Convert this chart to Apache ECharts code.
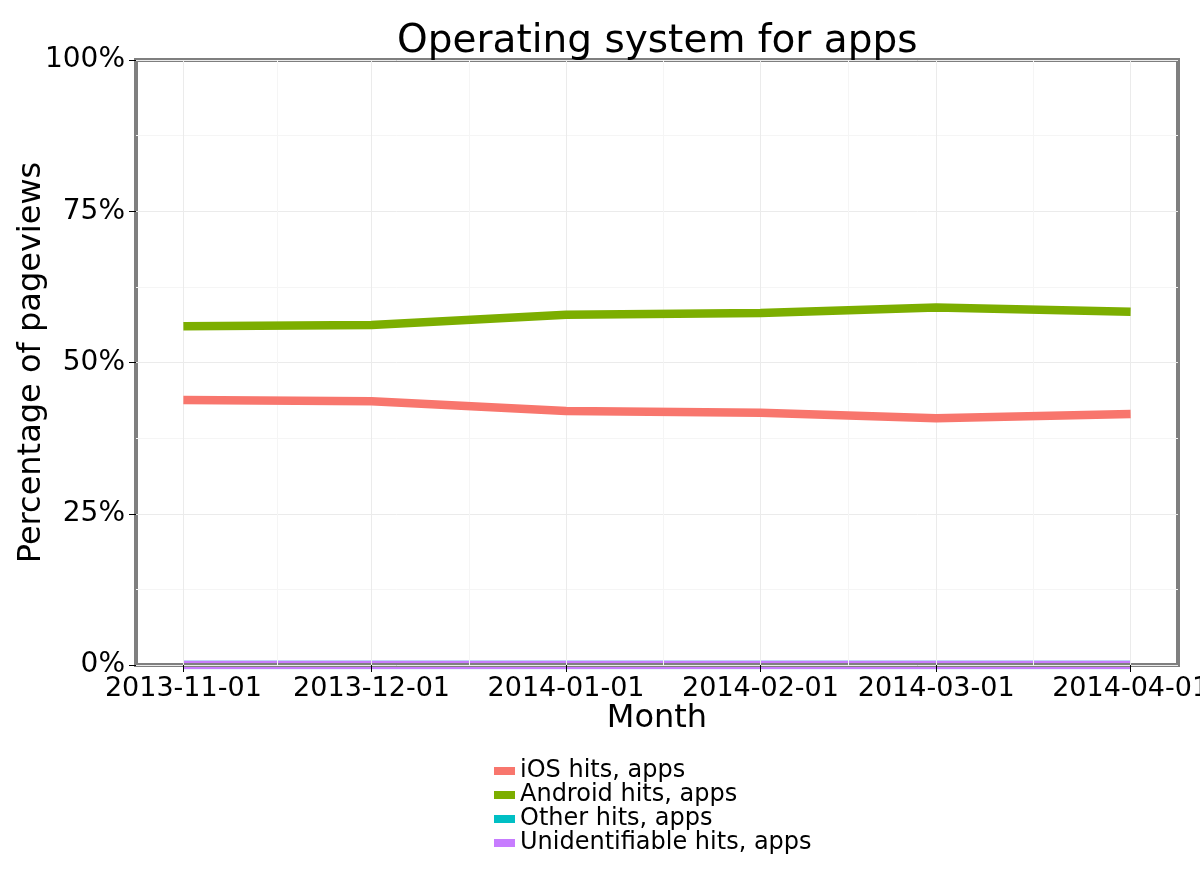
<!DOCTYPE html>
<html>
<head>
<meta charset="utf-8">
<script src="https://cdn.jsdelivr.net/npm/echarts@6/dist/echarts.min.js"></script>
<style>
  html, body { margin: 0; padding: 0; background: #ffffff; }
  #graph { width: 1200px; height: 882px; }
</style>
</head>
<body>
<div id="graph"></div>
<script>
// chart data
const months = ['2013-11-01', '2013-12-01', '2014-01-01', '2014-02-01', '2014-03-01', '2014-04-01'];
const iosHits = [43.8, 43.6, 42.0, 41.7, 40.8, 41.5];
const androidHits = [56.0, 56.2, 57.9, 58.2, 59.1, 58.4];
const otherHits = [0.02, 0.02, 0.02, 0.02, 0.02, 0.02];
const unidentHits = [0.01, 0.01, 0.01, 0.01, 0.01, 0.01];
const yTicks = [0, 25, 50, 75, 100];

const seriesNames = ['iOS hits, apps', 'Android hits, apps', 'Other hits, apps', 'Unidentifiable hits, apps'];
const seriesColors = ['#F8766D', '#7CAE00', '#00BFC4', '#C77CFF'];
const seriesValues = [iosHits, androidHits, otherHits, unidentHits];

const monthTimes = months.map(d => +new Date(d + 'T00:00:00'));
const span = monthTimes[monthTimes.length - 1] - monthTimes[0];
const xMin = monthTimes[0] - span * 0.05;
const xMax = monthTimes[monthTimes.length - 1] + span * 0.05;
const minorTimes = [];
for (let i = 0; i < monthTimes.length - 1; i++) {
  minorTimes.push((monthTimes[i] + monthTimes[i + 1]) / 2);
}

const chartDom = document.getElementById('graph');
const myChart = echarts.init(chartDom, null, { renderer: 'canvas' });

const fontFamily = 'DejaVu Sans';

const option = {
  animation: false,
  backgroundColor: '#ffffff',
  textStyle: { fontFamily: fontFamily },
  title: {
    text: 'Operating system for apps',
    left: 392,
    top: 17,
    textStyle: { fontSize: 39, fontWeight: 'normal', color: '#000000', fontFamily: fontFamily },
  },
  legend: {
    orient: 'vertical',
    left: 494,
    top: 759,
    padding: 0,
    itemGap: 0,
    itemWidth: 21,
    itemHeight: 8,
    icon: 'rect',
    data: seriesNames,
    textStyle: { fontSize: 24, color: '#000000', fontFamily: fontFamily, lineHeight: 24 },
  },
  grid: {
    left: 136,
    right: 22,
    top: 60,
    bottom: 217,
    outerBoundsMode: 'none',
    containLabel: false,
    show: true,
    backgroundColor: 'transparent',
    borderColor: '#7f7f7f',
    borderWidth: 4,
  },
  xAxis: [
    {
      type: 'time',
      min: xMin,
      max: xMax,
      name: 'Month',
      nameLocation: 'middle',
      nameGap: 38,
      nameMoveOverlap: false,
      nameTextStyle: { fontSize: 32, color: '#000000', fontFamily: fontFamily },
      axisLine: { show: false },
      axisTick: { show: true, length: 7, lineStyle: { color: '#000000', width: 1 }, customValues: monthTimes },
      axisLabel: {
        customValues: monthTimes,
        formatter: '{yyyy}-{MM}-{dd}',
        fontSize: 27,
        color: '#000000',
        margin: 10,
        hideOverlap: false,
        showMinLabel: true,
        showMaxLabel: true,
      },
      splitLine: { show: true, lineStyle: { color: '#ebebeb', width: 1 } },
    },
    {
      type: 'time',
      min: xMin,
      max: xMax,
      position: 'bottom',
      axisLine: { show: false },
      axisTick: { show: false, customValues: minorTimes },
      axisLabel: { show: false },
      splitLine: { show: true, lineStyle: { color: '#f5f5f5', width: 1 } },
    },
  ],
  yAxis: {
    type: 'value',
    min: 0,
    max: 100,
    interval: 25,
    name: 'Percentage of pageviews',
    nameLocation: 'middle',
    nameGap: 88,
    nameMoveOverlap: false,
    nameTextStyle: { fontSize: 32, color: '#000000', fontFamily: fontFamily },
    axisLine: { show: false },
    axisTick: { show: true, length: 7, lineStyle: { color: '#000000', width: 1 } },
    axisLabel: {
      fontSize: 28,
      color: '#000000',
      margin: 11,
      formatter: v => (yTicks.indexOf(v) >= 0 ? v + '%' : ''),
    },
    splitLine: { show: true, lineStyle: { color: '#ebebeb', width: 1 } },
    minorTick: { show: false, splitNumber: 2 },
    minorSplitLine: { show: true, lineStyle: { color: '#f5f5f5', width: 1 } },
  },
  series: seriesNames.map((name, i) => ({
    name: name,
    type: 'line',
    xAxisIndex: 0,
    data: monthTimes.map((t, j) => [t, seriesValues[i][j]]),
    showSymbol: false,
    symbol: 'none',
    lineStyle: { color: seriesColors[i], width: 8.5 },
    itemStyle: { color: seriesColors[i] },
    // near-zero lines sit under the panel border, as in the original
    z: i >= 2 ? -1 : 3,
  })),
};

myChart.setOption(option);
</script>
</body>
</html>
